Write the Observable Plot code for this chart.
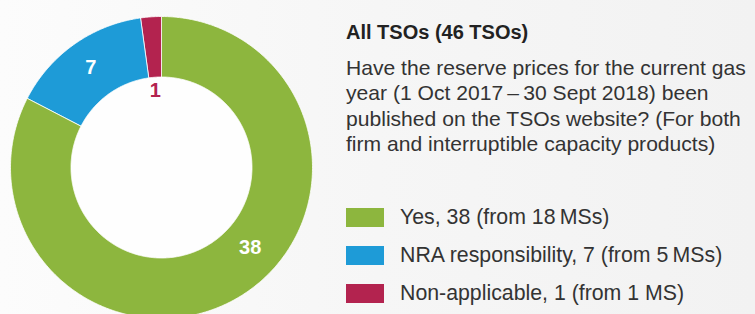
<!DOCTYPE html>
<html>
<head>
<meta charset="utf-8">
<script src="https://cdn.jsdelivr.net/npm/d3@7"></script>
<script src="https://cdn.jsdelivr.net/npm/@observablehq/plot@0.6"></script>
<style>
  html, body { margin: 0; padding: 0; }
  body {
    width: 755px; height: 314px; overflow: hidden; position: relative;
    background: linear-gradient(to right, #fcfcfc 0%, #f6f6f6 50%, #f2f2f2 100%);
    font-family: "Liberation Sans", Arial, sans-serif; color: #333;
  }
  #chart { position: absolute; left: 0; top: 0; }
  #side { position: absolute; left: 346px; top: 0; width: 409px; }
  #title { position: absolute; top: 20px; left: 0; font-weight: bold; font-size: 20px; line-height: 24px; white-space: nowrap; color: #222; }
  #question { position: absolute; top: 55px; left: 0; font-size: 21.1px; line-height: 25.3px; white-space: nowrap; color: #333; }
  .leg { position: absolute; left: 0; height: 20px; display: flex; align-items: center; white-space: nowrap; font-size: 21.3px; color: #333; }
  .sw { width: 38px; height: 19px; margin-right: 16px; flex: none; }
</style>
</head>
<body>
<div id="chart"></div>
<div id="side">
  <div id="title"></div>
  <div id="question"></div>
  <div id="legend"></div>
</div>
<script>
// ---- data ----
const categories = ["Yes", "NRA responsibility", "Non-applicable"];
const counts = [38, 7, 1];
const memberStates = ["18\u2009MSs", "5\u2009MSs", "1 MS"];
const colors = ["#8db63e", "#1e9bd7", "#b3234f"];
const titleText = "All TSOs (46 TSOs)";
const questionLines = [
  "Have the reserve prices for the current gas",
  "year (1 Oct 2017\u2009–\u200930 Sept 2018) been",
  "published on the TSOs website? (For both",
  "firm and interruptible capacity products)"
];

// ---- layout ----
const W = 330, H = 314, cx = 161, cy = 167, R = 151, r0 = 90.5;

const data = categories.map((c, i) => ({cat: c, count: counts[i], ms: memberStates[i]}));
const arcs = d3.pie().sort(null).value(d => d.count)(data);

// polygon outline of each ring segment (unit radius = R)
const pts = [];
arcs.forEach(a => {
  const n = Math.max(4, Math.ceil((a.endAngle - a.startAngle) / 0.01));
  for (let k = 0; k <= n; k++) {
    const t = a.startAngle + (a.endAngle - a.startAngle) * k / n;
    pts.push({cat: a.data.cat, x: Math.sin(t), y: Math.cos(t)});
  }
  for (let k = n; k >= 0; k--) {
    const t = a.startAngle + (a.endAngle - a.startAngle) * k / n;
    pts.push({cat: a.data.cat, x: (r0 / R) * Math.sin(t), y: (r0 / R) * Math.cos(t)});
  }
});

// label placement: fraction along the arc and radius
const labelFrac = [0.444, 0.5, 0.5];
const labelRad = [(R + r0) / 2 / R, (R + r0) / 2 / R, (r0 - 14) / R];
const labelFill = ["white", "white", colors[2]];
const labels = arcs.map((a, i) => {
  const t = a.startAngle + (a.endAngle - a.startAngle) * labelFrac[i];
  return {cat: a.data.cat, text: String(a.data.count), x: labelRad[i] * Math.sin(t), y: labelRad[i] * Math.cos(t), fill: labelFill[i]};
});

const plot = Plot.plot({
  width: W, height: H,
  margin: 0,
  style: {background: "transparent", overflow: "visible"},
  x: {axis: null, domain: [-cx / R, (W - cx) / R]},
  y: {axis: null, domain: [-(H - cy) / R, cy / R]},
  color: {domain: categories, range: colors},
  marks: [
    Plot.dot([{x: 0, y: 0}], {x: "x", y: "y", r: r0, fill: "#fefefe", stroke: "none"}),
    Plot.line(pts, {x: "x", y: "y", z: "cat", fill: "cat", stroke: "white", strokeWidth: 0.8, curve: "linear-closed"}),
    Plot.text(labels, {x: "x", y: "y", text: "text", fill: d => d.fill, fontSize: 20, fontWeight: 600,
      fontFamily: "Liberation Sans, Arial, sans-serif", textAnchor: "middle", dx: -1, dy: -1})
  ]
});
document.getElementById("chart").appendChild(plot);

document.getElementById("title").textContent = titleText;
document.getElementById("question").innerHTML = questionLines.map(l => `<div>${l}</div>`).join("");

const legendTops = [207, 245, 283];
const legend = document.getElementById("legend");
data.forEach((d, i) => {
  const row = document.createElement("div");
  row.className = "leg";
  row.style.top = legendTops[i] + "px";
  row.innerHTML = `<span class="sw" style="background:${colors[i]}"></span><span>${d.cat}, ${d.count} (from ${d.ms})</span>`;
  legend.appendChild(row);
});
</script>
</body>
</html>
